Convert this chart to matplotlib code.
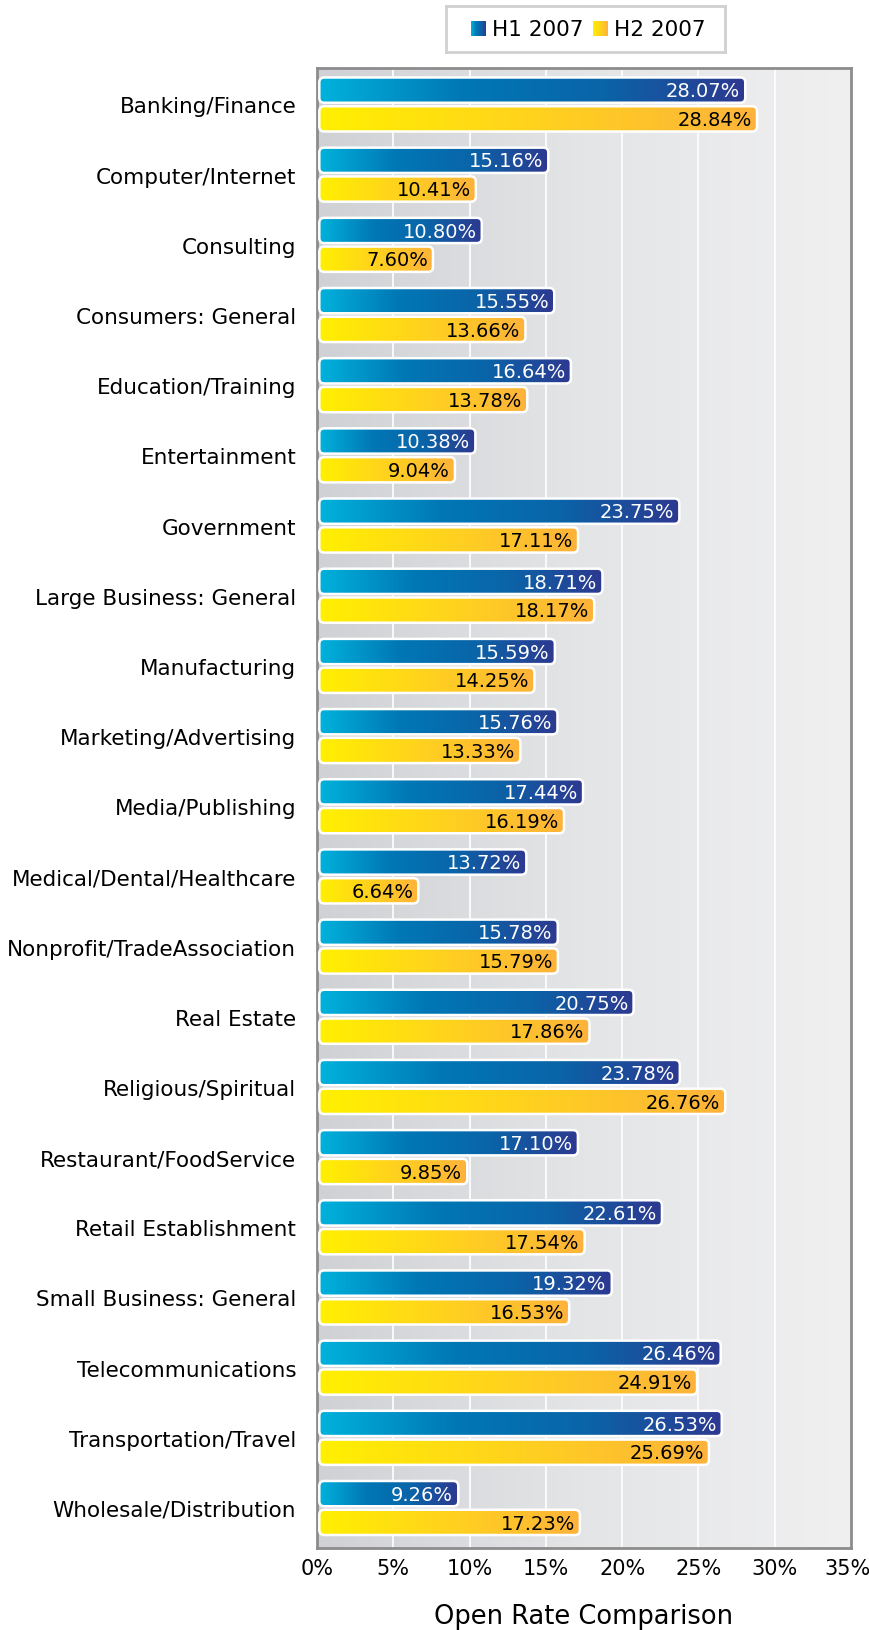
import numpy as np
import matplotlib.pyplot as plt
from matplotlib.colors import LinearSegmentedColormap
from matplotlib.patches import FancyBboxPatch
from matplotlib.transforms import ScaledTranslation

# 行业分类与两个半年的打开率 (%)
categories = ["Banking/Finance", "Computer/Internet", "Consulting", "Consumers: General",
              "Education/Training", "Entertainment", "Government", "Large Business: General",
              "Manufacturing", "Marketing/Advertising", "Media/Publishing",
              "Medical/Dental/Healthcare", "Nonprofit/TradeAssociation", "Real Estate",
              "Religious/Spiritual", "Restaurant/FoodService", "Retail Establishment",
              "Small Business: General", "Telecommunications", "Transportation/Travel",
              "Wholesale/Distribution"]
h1_2007 = [28.07, 15.16, 10.80, 15.55, 16.64, 10.38, 23.75, 18.71, 15.59, 15.76, 17.44,
           13.72, 15.78, 20.75, 23.78, 17.10, 22.61, 19.32, 26.46, 26.53, 9.26]
h2_2007 = [28.84, 10.41, 7.60, 13.66, 13.78, 9.04, 17.11, 18.17, 14.25, 13.33, 16.19,
           6.64, 15.79, 17.86, 26.76, 9.85, 17.54, 16.53, 24.91, 25.69, 17.23]
series_names = ["H1 2007", "H2 2007"]
x_ticks = [0, 5, 10, 15, 20, 25, 30, 35]

plt.rcParams['font.family'] = ['DejaVu Sans']

# 渐变色
cmap_h1 = LinearSegmentedColormap.from_list("h1", ["#00b2dc", "#0078b6", "#0a64a8", "#2d3990"])
cmap_h2 = LinearSegmentedColormap.from_list("h2", ["#fff000", "#ffd21e", "#fdb33a"])
cmap_bg = LinearSegmentedColormap.from_list("bg", ["#d0d1d4", "#e4e5e7", "#f0f0f1"])
grad = np.linspace(0, 1, 256).reshape(1, -1)

W, H = 869, 1631
fig = plt.figure(figsize=(W / 100, H / 100), dpi=100)
ax = fig.add_axes([317 / W, 1 - 1549 / H, (851 - 317) / W, (1549 - 69) / H])

n = len(categories)
y_lo, y_hi = -0.52, n - 1 + 0.57
ax.set_xlim(0, 35)
ax.set_ylim(y_hi, y_lo)

# 背景渐变和白色网格线
ax.imshow(grad, cmap=cmap_bg, aspect='auto', extent=(0, 35, y_hi, y_lo), zorder=0)
for t in x_ticks[1:-1]:
    ax.axvline(t, color='white', lw=1.2, zorder=1)

# 圆角参数 (x 单位为 %, y 单位为类别)
px_x = (851 - 317) / 35.0
px_y = (1549 - 69) / (y_hi - y_lo)
r = 5 / px_x
asp = px_x / px_y

bar_h = 0.36
off = 0.205
x0 = 0.15


def draw_bar(y, value, cmap, label, txt_color):
    box = FancyBboxPatch((x0, y - bar_h / 2), value - x0, bar_h,
                         boxstyle=f"round,pad=0,rounding_size={r}",
                         mutation_aspect=asp, transform=ax.transData,
                         facecolor='none', edgecolor='none')
    ax.add_patch(box)
    im = ax.imshow(grad, cmap=cmap, aspect='auto',
                   extent=(x0, value, y + bar_h / 2, y - bar_h / 2), zorder=2)
    im.set_clip_path(box)
    edge = FancyBboxPatch((x0, y - bar_h / 2), value - x0, bar_h,
                          boxstyle=f"round,pad=0,rounding_size={r}",
                          mutation_aspect=asp, transform=ax.transData,
                          facecolor='none', edgecolor='white', lw=1.8, zorder=3)
    ax.add_patch(edge)
    ax.text(value - 0.33, y + 0.01, label, ha='right', va='center',
            color=txt_color, fontsize=14, zorder=4)


for i in range(n):
    draw_bar(i - off, h1_2007[i], cmap_h1, f"{h1_2007[i]:.2f}%", 'white')
    draw_bar(i + off, h2_2007[i], cmap_h2, f"{h2_2007[i]:.2f}%", 'black')

ax.set_yticks(range(n))
ax.set_yticklabels(categories, fontsize=15.5)
ax.set_xticks(x_ticks)
ax.set_xticklabels([f"{t}%" for t in x_ticks], fontsize=15)
ax.tick_params(axis='y', length=0, pad=15)
ax.tick_params(axis='x', length=0, pad=7)
# 最右侧刻度标签稍向左移, 避免被画布边缘截断
last = ax.get_xticklabels()[-1]
last.set_transform(last.get_transform() + ScaledTranslation(-4 / 100, 0, fig.dpi_scale_trans))
ax.set_xlabel("Open Rate Comparison", fontsize=18.5, labelpad=18)
for s in ax.spines.values():
    s.set_color('#8c8c8c')
    s.set_linewidth(2)

# 图例
lg = fig.add_axes([446 / W, 1 - 53 / H, 279 / W, 46 / H])
lg.set_xticks([])
lg.set_yticks([])
for s in lg.spines.values():
    s.set_color('#d0d0d0')
    s.set_linewidth(2)
for x_sq, cm, name in [(25, cmap_h1, series_names[0]), (147, cmap_h2, series_names[1])]:
    lg.imshow(grad, cmap=cm, aspect='auto', extent=(x_sq, x_sq + 15, 30, 15))
    lg.text(x_sq + 21, 23, name, ha='left', va='center', fontsize=15.5)
lg.set_xlim(0, 279)
lg.set_ylim(46, 0)

fig.savefig("out.png", dpi=100)
